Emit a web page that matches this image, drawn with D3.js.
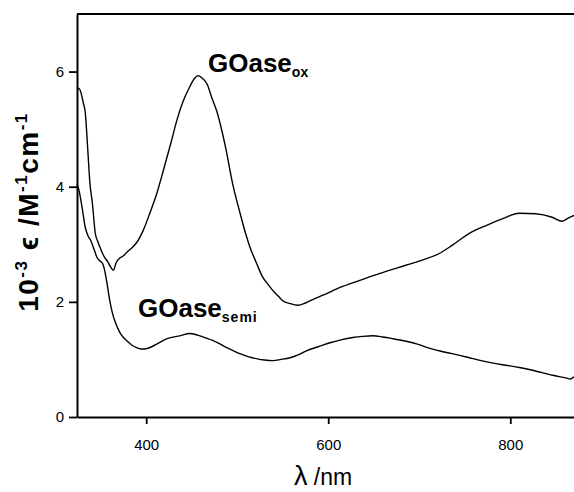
<!DOCTYPE html>
<html>
<head>
<meta charset="utf-8">
<script src="https://cdn.jsdelivr.net/npm/d3@7"></script>
<style>
  html, body { margin: 0; padding: 0; background: #fff; }
  svg { display: block; font-family: "Liberation Sans", Arial, Helvetica, sans-serif; }
</style>
</head>
<body>
<svg id="chart" width="574" height="492"></svg>
<script>
// ---- data ----
const xTicks = [400, 600, 800];
const yTicks = [0, 2, 4, 6];

const oxWavelength = [324,327,331,333,336,338,341,344,347,350,353,358,362,364,367,371,375,380,385,390,397,404,412,419,427,434,441,448,453,457,462,467,472,478,487,495,503,509,514,521,528,534,539,545,550,558,567,575,583,595,613,634,656,686,704,722,736,755,774,791,810,828,846,857,863,870];
const oxValues = [5.72,5.69,5.45,5.30,4.60,4.10,3.70,3.20,3.04,2.92,2.81,2.69,2.58,2.55,2.68,2.76,2.80,2.88,2.95,3.04,3.25,3.54,3.90,4.29,4.75,5.17,5.50,5.74,5.88,5.93,5.88,5.78,5.55,5.29,4.70,4.05,3.55,3.20,2.95,2.68,2.43,2.30,2.20,2.10,2.02,1.97,1.94,1.98,2.04,2.12,2.25,2.37,2.49,2.64,2.73,2.84,2.98,3.19,3.33,3.44,3.54,3.53,3.47,3.40,3.45,3.50];

const semiWavelength = [324,326,330,333,336,339,343,346,350,352,355,357,360,363,366,371,375,379,384,390,395,401,406,412,423,437,448,459,466,473,481,489,496,503,512,522,530,539,548,558,567,576,589,602,614,627,638,649,660,671,684,697,710,722,730,742,755,768,780,795,810,822,835,848,861,866,870];
const semiValues = [4.05,3.95,3.60,3.30,3.15,3.07,2.90,2.77,2.70,2.67,2.50,2.32,2.02,1.80,1.65,1.47,1.38,1.32,1.25,1.20,1.18,1.19,1.22,1.27,1.36,1.41,1.45,1.41,1.37,1.33,1.27,1.20,1.15,1.10,1.05,1.01,0.99,0.98,1.00,1.03,1.08,1.15,1.22,1.29,1.34,1.38,1.40,1.41,1.39,1.36,1.32,1.27,1.20,1.15,1.12,1.08,1.03,0.98,0.94,0.90,0.86,0.82,0.77,0.72,0.68,0.66,0.70];

const xDomain = [324, 870];
const yDomain = [0, 7];

// ---- layout ----
const svg = d3.select("#chart");
const mLeft = 77, mRight = 574, mTop = 14, mBottom = 417;

const x = d3.scaleLinear().domain(xDomain).range([mLeft, mRight]);
const y = d3.scaleLinear().domain(yDomain).range([mBottom, mTop]);

const line = d3.line().x(d => x(d[0])).y(d => y(d[1])).curve(d3.curveMonotoneX);

const ox = d3.zip(oxWavelength, oxValues);
const semi = d3.zip(semiWavelength, semiValues);

svg.append("path").datum(ox).attr("d", line)
  .attr("fill", "none").attr("stroke", "#000").attr("stroke-width", 1.4);
svg.append("path").datum(semi).attr("d", line)
  .attr("fill", "none").attr("stroke", "#000").attr("stroke-width", 1.4);

// axes
const fmt = d3.format("d");
const xAxis = d3.axisBottom(x).tickValues(xTicks).tickFormat(fmt).tickSize(7).tickPadding(15).tickSizeOuter(0);
const gx = svg.append("g").attr("transform", `translate(0,${mBottom})`).call(xAxis);
const yAxis = d3.axisLeft(y).tickValues(yTicks).tickFormat(fmt).tickSize(8).tickPadding(5).tickSizeOuter(0);
const gy = svg.append("g").attr("transform", `translate(${mLeft},0)`).call(yAxis);

[gx, gy].forEach(g => {
  g.select(".domain").attr("stroke", "#000").attr("stroke-width", 2);
  g.selectAll(".tick line").attr("stroke", "#000").attr("stroke-width", 1.8);
  g.selectAll(".tick text").attr("fill", "#000").attr("font-size", 15)
    .attr("font-family", "'Liberation Sans', Arial, sans-serif");
});

// top frame line
svg.append("line").attr("x1", mLeft).attr("x2", mRight).attr("y1", mTop).attr("y2", mTop)
  .attr("stroke", "#000").attr("stroke-width", 2);

// axis titles
const xt = svg.append("text").attr("x", 323).attr("y", 485).attr("text-anchor", "middle")
  .attr("fill", "#000");
xt.append("tspan").attr("font-size", 27).text("λ");
xt.append("tspan").attr("font-size", 23).text(" /nm");

const yt = svg.append("text").attr("transform", "translate(38,212) rotate(-90)")
  .attr("text-anchor", "middle").attr("fill", "#000").attr("font-size", 28)
  .attr("font-weight", "bold").attr("letter-spacing", 1.5);
yt.append("tspan").text("10");
yt.append("tspan").attr("font-size", 17).attr("dy", -11).text("-3");
yt.append("tspan").attr("dy", 11).text(" ϵ /M");
yt.append("tspan").attr("font-size", 17).attr("dy", -11).text("-1");
yt.append("tspan").attr("dy", 11).text("cm");
yt.append("tspan").attr("font-size", 17).attr("dy", -11).text("-1");

// curve labels
const l1 = svg.append("text").attr("x", 208).attr("y", 72).attr("fill", "#000").attr("font-weight", "bold");
l1.append("tspan").attr("font-size", 26).text("GOase");
l1.append("tspan").attr("font-size", 14).attr("dy", 5).text("ox");

const l2 = svg.append("text").attr("x", 138).attr("y", 317).attr("fill", "#000").attr("font-weight", "bold");
l2.append("tspan").attr("font-size", 26).text("GOase");
l2.append("tspan").attr("font-size", 14).attr("dy", 5).attr("letter-spacing", 1).text("semi");
</script>
</body>
</html>
